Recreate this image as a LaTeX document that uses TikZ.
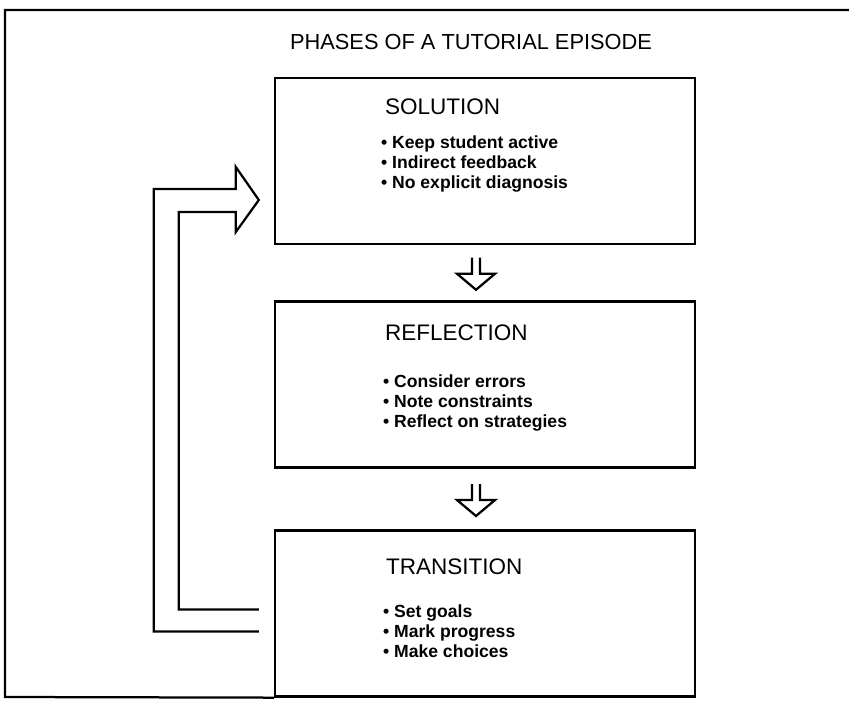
\documentclass[tikz,border=0pt]{standalone}
\usepackage{fontspec}
\setmainfont{Liberation Sans}
\usetikzlibrary{calc}

\tikzset{
  downarr/.pic={\draw (-13,-15) -- (-13,1) -- (-28,1) -- (-9,17) -- (10,1) -- (-5,1) -- (-5,-15);}
}

\begin{document}
\begin{tikzpicture}[x=0.025cm,y=-0.025cm,line width=1.6pt,
  phase/.style={draw,minimum width=10.5cm,minimum height=4.15cm,inner sep=0pt},
  head/.style={anchor=west,inner sep=0pt,font=\fontsize{16}{18}\selectfont},
  items/.style={anchor=north west,align=left,inner sep=0pt,font=\bfseries\fontsize{12.5}{14}\selectfont}]
\useasboundingbox (0,0) rectangle (849,702);

\node[font=\fontsize{15.5}{18}\selectfont] (title) at (471,42) {PHASES OF A TUTORIAL EPISODE};

% the three phases
\node[phase] (sol) at (485,161)   {};
\node[phase] (ref) at (485,384.5) {};
\node[phase] (tra) at (485,613.5) {};

\node[head]  (solhead) at (384,107) {SOLUTION};
\node[items] (solitem) at (380,135) {\textbullet\ Keep student active\\\textbullet\ Indirect feedback\\\textbullet\ No explicit diagnosis};

\node[head]  (refhead) at (384,333) {REFLECTION};
\node[items] (refitem) at (382,374) {\textbullet\ Consider errors\\\textbullet\ Note constraints\\\textbullet\ Reflect on strategies};

\node[head]  (trahead) at (385,567) {TRANSITION};
\node[items] (traitem) at (382,604) {\textbullet\ Set goals\\\textbullet\ Mark progress\\\textbullet\ Make choices};

% outer frame, open on the right
\draw (849,10) -- (5,10) -- (5,697) -- (tra.south west);

% hollow arrows between phases
\pic at ($(sol.south)!.5!(ref.north)$) {downarr};
\pic at ($(ref.south)!.5!(tra.north)$) {downarr};

% back from transition to solution
\coordinate (tip) at ($(sol.west)+(-15,39)$);
\draw ($(tra.west)+(-15,18)$) -- ++(-105,0) |- ($(tip)+(-23,-11)$) -- ++(0,-22) -- (tip)
  -- ++(-23,32) -- ++(0,-20) -- ++(-57,0) |- ($(tra.west)+(-15,-4)$);
\end{tikzpicture}
\end{document}
